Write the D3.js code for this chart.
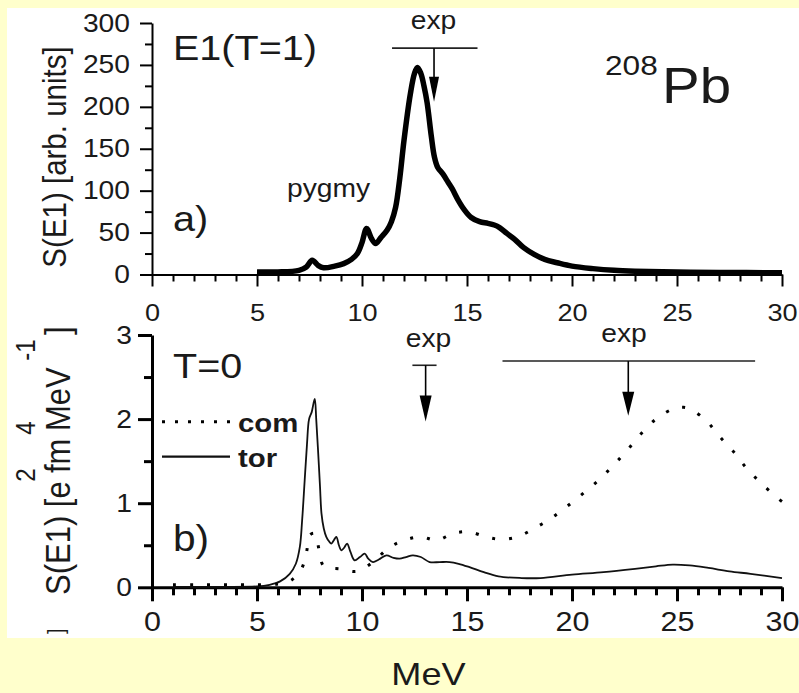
<!DOCTYPE html>
<html>
<head>
<meta charset="utf-8">
<script src="https://cdn.jsdelivr.net/npm/d3@7"></script>
<style>
  body { margin: 0; background: #ffffcc; }
  text { font-family: "Liberation Sans", Arial, sans-serif; fill: #1a1a1a; }
</style>
</head>
<body>
<div id="chart"></div>
<script>
// E1 strength in 208Pb

// panel a) : isovector E1 strength, arb. units
const e1Energy = [5.0, 6.0, 7.0, 7.35, 7.63, 7.9, 8.17, 8.7, 9.13, 9.5, 9.78, 10.0, 10.22, 10.45, 10.65,
  10.9, 11.2, 11.4, 11.6, 11.8, 12.0, 12.3, 12.5, 12.64, 12.8, 12.95, 13.1, 13.3, 13.45, 13.6,
  13.85, 14.1, 14.3, 14.55, 14.85, 15.2, 15.6, 16.0, 16.3, 16.55, 16.9, 17.27, 17.7, 18.2, 18.7,
  19.3, 20.0, 21.0, 22.0, 23.0, 25.0, 27.0, 30.0]
const e1Strength = [3, 3, 5, 9, 17, 11, 8, 10, 13, 18, 25, 38, 55, 43, 37,
  44, 53, 63, 80, 115, 160, 215, 240, 247, 240, 225, 205, 165, 140, 128,
  120, 110, 102, 90, 78, 68, 63, 61, 59, 56, 49, 42, 32, 24, 18,
  14, 10, 7, 5, 4, 3, 2.5, 2]

// panel b) : T=0, toroidal (solid) and compressional (dotted)
const torEnergy = [1, 3, 5, 5.6, 6.1, 6.56, 6.85, 7.04, 7.15, 7.27, 7.38, 7.48, 7.6, 7.75, 7.82,
  7.9, 8.0, 8.07, 8.18, 8.3, 8.42, 8.54, 8.66, 8.78, 8.9, 9.02, 9.15, 9.29, 9.45, 9.65,
  9.9, 10.13, 10.3, 10.52, 10.8, 11.16, 11.5, 11.79, 12.1, 12.42, 12.8, 13.22, 13.7, 14.17, 14.6,
  15.12, 15.8, 16.5, 17.6, 18.5, 20.0, 21.5, 23.0, 24.0, 24.8, 25.6, 26.5, 27.5, 28.5, 30.0]
const torStrength = [0.005, 0.005, 0.01, 0.03, 0.07, 0.16, 0.28, 0.48, 0.8, 1.27, 1.7, 2.0, 2.08, 2.24, 2.0,
  1.66, 1.2, 0.88, 0.7, 0.6, 0.55, 0.52, 0.56, 0.6, 0.5, 0.44, 0.47, 0.52, 0.42, 0.32,
  0.36, 0.40, 0.34, 0.30, 0.33, 0.38, 0.35, 0.34, 0.36, 0.38, 0.36, 0.30, 0.30, 0.30, 0.28,
  0.24, 0.18, 0.13, 0.11, 0.11, 0.15, 0.18, 0.22, 0.25, 0.27, 0.26, 0.23, 0.19, 0.16, 0.11]

const comEnergy = [1, 2, 3, 4, 5, 6, 6.6, 7.12, 7.36, 7.51, 7.75, 7.96, 8.15, 8.5, 8.94,
  9.76, 10.52, 11.28, 12.03, 12.79, 13.57, 14.33, 15.09, 15.9, 16.6, 17.4, 18.2, 19.0, 19.7, 20.5,
  21.3, 22.0, 22.6, 23.3, 24.0, 24.8, 25.3, 25.7, 26.4, 27.0, 27.7, 28.3, 29.0, 29.8, 30.0]
const comStrength = [0.03, 0.03, 0.03, 0.03, 0.03, 0.04, 0.08, 0.22, 0.42, 0.62, 0.64, 0.44, 0.26, 0.23, 0.22,
  0.19, 0.30, 0.47, 0.56, 0.60, 0.56, 0.64, 0.66, 0.60, 0.57, 0.60, 0.70, 0.82, 0.95, 1.11,
  1.28, 1.46, 1.62, 1.83, 2.00, 2.12, 2.14, 2.11, 1.98, 1.80, 1.61, 1.42, 1.24, 1.06, 1.02]

// experimental markers: [low edge, centroid, high edge] and [bar level, arrow tip]
const expA = [11.43, 13.43, 15.5], expALevel = [270, 206]
const expB1 = [12.4, 13.03, 13.55], expB1Level = [2.64, 1.97]
const expB2 = [16.69, 22.68, 28.72], expB2Level = [2.69, 2.04]

// ticks
const xTicks = [0, 5, 10, 15, 20, 25, 30]
const xMinorTicks = [1, 2, 3, 4, 6, 7, 8, 9, 11, 12, 13, 14, 16, 17, 18, 19, 21, 22, 23, 24, 26, 27, 28, 29]
const aTicks = [0, 50, 100, 150, 200, 250, 300]
const aMinorTicks = [25, 75, 125, 175, 225, 275]
const bTicks = [0, 1, 2, 3]
const bMinorTicks = [0.5, 1.5, 2.5]

const W = 799, H = 693
const K = 1.13 // the original picture is a bit stretched sideways

const svg = d3.select("#chart").append("svg")
  .attr("width", W).attr("height", H)

svg.append("rect").attr("width", W).attr("height", H).attr("fill", "#ffffcc")
svg.append("rect").attr("x", 7).attr("y", 8).attr("width", W - 7).attr("height", 630).attr("fill", "#fff")

const x = d3.scaleLinear().domain([0, 30]).range([152, 782])
const yA = d3.scaleLinear().domain([0, 300]).range([274.5, 23])
const yB = d3.scaleLinear().domain([0, 3]).range([587.3, 335])

// text helper, stretched horizontally like the source
function label(s, px, py, size, opts = {}) {
  const t = (opts.parent || svg).append("text")
    .attr("transform", `translate(${px},${py}) scale(${K},1)` + (opts.rot ? " rotate(-90)" : ""))
    .attr("font-size", size)
    .attr("text-anchor", opts.anchor || "start")
  if (opts.bold) t.attr("font-weight", "bold")
  t.text(s)
  return t
}

function drawAxes(y, major, minor, o) {
  // minor ticks
  svg.append("g").attr("transform", `translate(0,${y(0)})`)
    .call(d3.axisBottom(x).tickValues(xMinorTicks).tickSize(o.small).tickFormat(""))
    .call(g => g.select(".domain").remove())
    .selectAll("line").attr("stroke-width", o.sw)
  svg.append("g").attr("transform", `translate(${x(0)},0)`)
    .call(d3.axisLeft(y).tickValues(minor).tickSize(o.small).tickFormat(""))
    .call(g => g.select(".domain").remove())
    .selectAll("line").attr("stroke-width", o.sw)

  const gx = svg.append("g").attr("transform", `translate(0,${y(0)})`)
    .call(d3.axisBottom(x).tickValues(xTicks).tickSize(o.big).tickSizeOuter(0))
  gx.attr("font-family", null).attr("font-size", null)
  gx.select(".domain").attr("stroke-width", o.sw)
  gx.selectAll("line").attr("stroke-width", o.sw)
  gx.selectAll("text").attr("font-size", o.xFont).attr("y", o.xGap)
    .attr("transform", `scale(${K},1)`)

  const gy = svg.append("g").attr("transform", `translate(${x(0)},0)`)
    .call(d3.axisLeft(y).tickValues(major).tickSize(o.big).tickSizeOuter(0).tickFormat(d3.format("d")))
  gy.attr("font-family", null).attr("font-size", null)
  gy.select(".domain").attr("stroke-width", o.sw)
  gy.selectAll("line").attr("stroke-width", o.sw)
  gy.selectAll("text").attr("font-size", o.yFont).attr("x", -o.yGap / K)
    .attr("transform", `scale(${K},1)`)
}

drawAxes(yA, aTicks, aMinorTicks, {sw: 2, big: 12, small: 7, xFont: 24, xGap: 29, yFont: 25, yGap: 22})
drawAxes(yB, bTicks, bMinorTicks, {sw: 3, big: 14, small: 8, xFont: 27, xGap: 25, yFont: 25, yGap: 20})

// curves
const lineA = d3.line().x(d => x(d[0])).y(d => yA(d[1])).curve(d3.curveCatmullRom.alpha(0.5))
const lineB = d3.line().x(d => x(d[0])).y(d => yB(d[1])).curve(d3.curveCatmullRom.alpha(0.5))

svg.append("path").datum(d3.zip(e1Energy, e1Strength))
  .attr("d", lineA).attr("fill", "none").attr("stroke", "#000")
  .attr("stroke-width", 5.5).attr("stroke-linejoin", "round")

svg.append("path").datum(d3.zip(torEnergy, torStrength))
  .attr("d", lineB).attr("fill", "none").attr("stroke", "#111")
  .attr("stroke-width", 1.8).attr("stroke-linejoin", "round")

svg.append("path").datum(d3.zip(comEnergy, comStrength))
  .attr("d", lineB).attr("fill", "none").attr("stroke", "#000")
  .attr("stroke-width", 3).attr("stroke-dasharray", "3,14")

// experimental bars with arrows
function expMarker(band, level, y, head) {
  const cx = x(band[1]), top = y(level[0]), tip = y(level[1])
  svg.append("line").attr("x1", x(band[0])).attr("x2", x(band[2]))
    .attr("y1", top).attr("y2", top).attr("stroke", "#222").attr("stroke-width", 1.6)
  svg.append("line").attr("x1", cx).attr("x2", cx).attr("y1", top).attr("y2", tip - head[0] + 2)
    .attr("stroke", "#000").attr("stroke-width", 1.6)
  svg.append("path")
    .attr("d", `M${cx - head[1]},${tip - head[0]} L${cx + head[1]},${tip - head[0]} L${cx},${tip} Z`)
    .attr("fill", "#000")
}
expMarker(expA, expALevel, yA, [25, 5])
expMarker(expB1, expB1Level, yB, [26, 6])
expMarker(expB2, expB2Level, yB, [24, 6])

// annotations
label("exp", 433.5, 28.5, 25, {anchor: "middle"})
label("exp", 428.5, 347, 25, {anchor: "middle"})
label("exp", 624, 342, 25, {anchor: "middle"})
label("E1(T=1)", 173, 60, 35)
label("pygmy", 328.5, 197, 25, {anchor: "middle"})
label("a)", 173, 231, 35)
label("T=0", 173, 378, 35)
label("b)", 173, 551, 36)
label("208", 605, 75, 28)
label("Pb", 662, 103, 50)

// legend
svg.append("line").attr("x1", 162).attr("x2", 230).attr("y1", 421.7).attr("y2", 421.7)
  .attr("stroke", "#000").attr("stroke-width", 3).attr("stroke-dasharray", "3,10")
svg.append("line").attr("x1", 162).attr("x2", 230).attr("y1", 456.7).attr("y2", 456.7)
  .attr("stroke", "#111").attr("stroke-width", 2.2)
label("com", 238, 432, 26, {bold: true})
label("tor", 238, 467, 26, {bold: true})

// axis titles
label("S(E1) [arb. units]", 66, 157, 29.5, {rot: true, anchor: "middle"})

const yb = label("", 70, 595, 31, {rot: true})
yb.append("tspan").attr("x", 0).text("S(E1) [e")
yb.append("tspan").attr("x", 122).text("fm")
yb.append("tspan").attr("x", 164).text("MeV")
yb.append("tspan").attr("x", 260).text("]")
label("2", 35, 475, 24, {rot: true, anchor: "middle"})
label("4", 35, 428, 24, {rot: true, anchor: "middle"})
label("-1", 35, 350, 24, {rot: true, anchor: "middle"})

// clipped remnant of a label below panel b)
svg.append("clipPath").attr("id", "panelClip")
  .append("rect").attr("x", 7).attr("y", 8).attr("width", W - 7).attr("height", 630)
const clipped = svg.append("g").attr("clip-path", "url(#panelClip)")
label("]", 63, 634, 20, {rot: true, parent: clipped})

label("MeV", 428.5, 685, 32, {anchor: "middle"})
</script>
</body>
</html>
